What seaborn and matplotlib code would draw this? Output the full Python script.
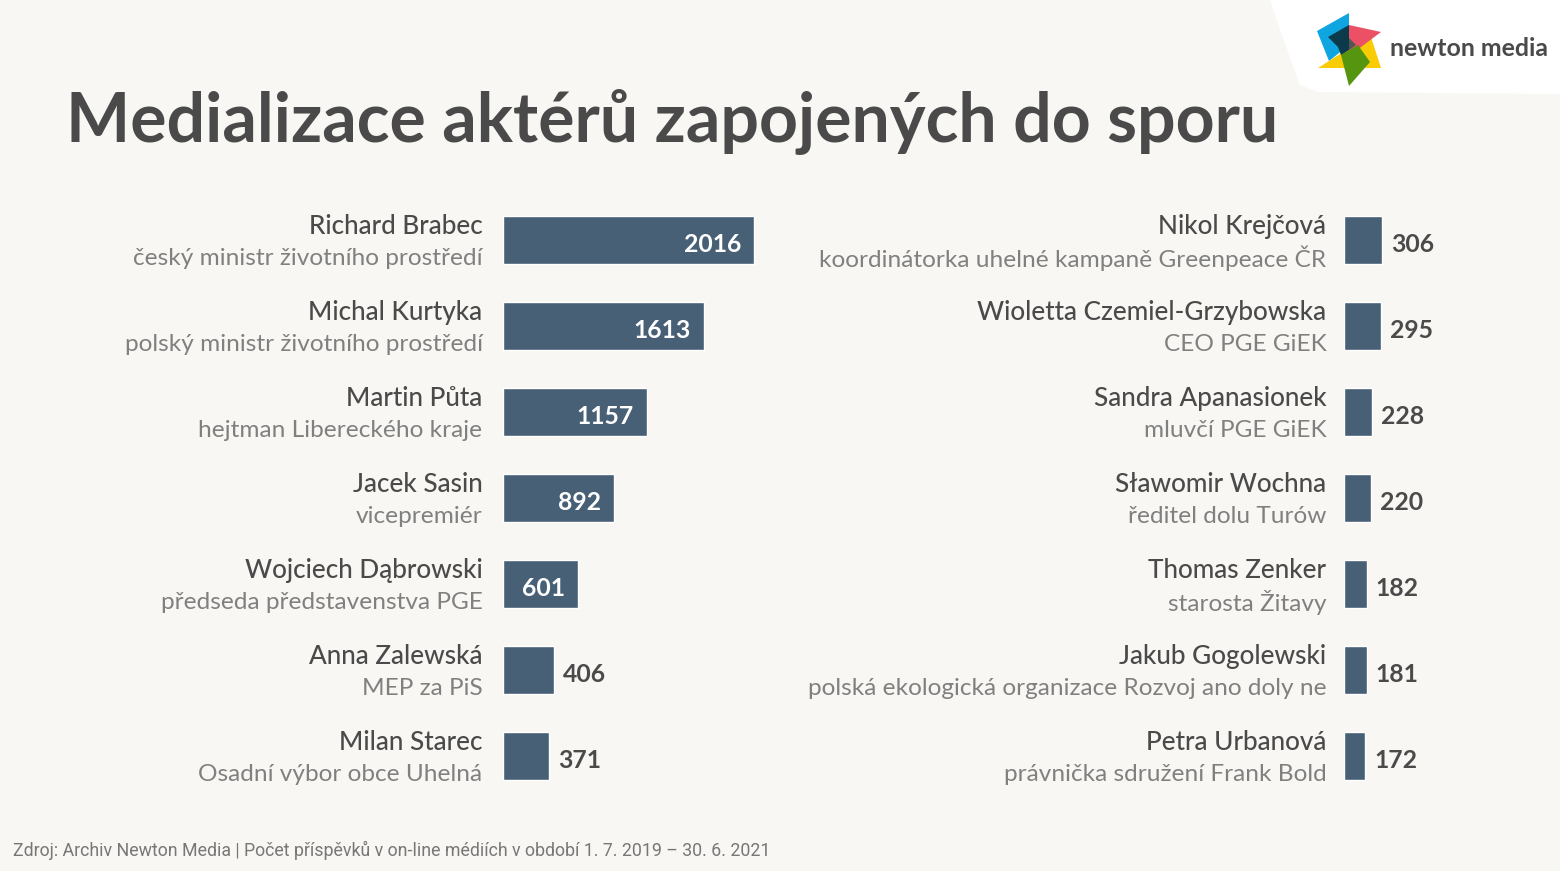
import matplotlib
matplotlib.use("Agg")
import matplotlib.pyplot as plt
from matplotlib.patches import Polygon, PathPatch
from matplotlib.path import Path
import pandas as pd
import seaborn as sns

# data
left_names = ["Richard Brabec", "Michal Kurtyka", "Martin Půta", "Jacek Sasin",
              "Wojciech Dąbrowski", "Anna Zalewská", "Milan Starec"]
left_roles = ["český ministr životního prostředí", "polský ministr životního prostředí",
              "hejtman Libereckého kraje", "vicepremiér",
              "předseda představenstva PGE", "MEP za PiS", "Osadní výbor obce Uhelná"]
left_values = [2016, 1613, 1157, 892, 601, 406, 371]

right_names = ["Nikol Krejčová", "Wioletta Czemiel-Grzybowska", "Sandra Apanasionek",
               "Sławomir Wochna", "Thomas Zenker", "Jakub Gogolewski", "Petra Urbanová"]
right_roles = ["koordinátorka uhelné kampaně Greenpeace ČR", "CEO PGE GiEK", "mluvčí PGE GiEK",
               "ředitel dolu Turów", "starosta Žitavy",
               "polská ekologická organizace Rozvoj ano doly ne", "právnička sdružení Frank Bold"]
right_values = [306, 295, 228, 220, 182, 181, 172]

title = "Medializace aktérů zapojených do sporu"
source = "Zdroj: Archiv Newton Media | Počet příspěvků v on-line médiích v období 1. 7. 2019 – 30. 6. 2021"

BG = "#F8F7F3"
BAR = "#476076"
DARK = "#4A4A4A"
GREY = "#808080"
W, H = 1560, 871
PX_PER_UNIT = 251 / 2016

sns.set_theme(style="white")
plt.rcParams["font.family"] = ["Lato", "DejaVu Sans"]

fig = plt.figure(figsize=(W / 100, H / 100), dpi=100, facecolor=BG)


def add_panel(x0, x1, names, roles, values, label_gap):
    top, bottom = 197, 799
    ax = fig.add_axes([x0 / W, 1 - bottom / H, (x1 - x0) / W, (bottom - top) / H])
    df = pd.DataFrame({"name": names, "value": values})
    sns.barplot(data=df, y="name", x="value", color=BAR, saturation=1, width=0.55, ax=ax)
    ax.set_xlim(0, (x1 - x0) / PX_PER_UNIT)
    ax.set_ylim(6.5, -0.5)
    ax.axis("off")
    for i, (name, role, val) in enumerate(zip(names, roles, values)):
        ax.annotate(name, (0, i), xytext=(label_gap, 13.5), textcoords="offset pixels",
                    ha="right", va="center", fontsize=18.8, color=DARK, weight="medium",
                    annotation_clip=False)
        ax.annotate(role, (0, i), xytext=(label_gap, -18), textcoords="offset pixels",
                    ha="right", va="center", fontsize=17.6, color=GREY, weight="regular",
                    annotation_clip=False)
        if val > 500:
            ax.annotate(str(val), (val, i), xytext=(-13, -4), textcoords="offset pixels",
                        ha="right", va="center", fontsize=17.8, color="white", weight="bold")
        else:
            ax.annotate(str(val), (val, i), xytext=(9, -4), textcoords="offset pixels",
                        ha="left", va="center", fontsize=17.8, color=DARK, weight="bold")
    return ax


add_panel(503, 790, left_names, left_roles, left_values, -20.5)
add_panel(1344, 1500, right_names, right_roles, right_values, -17.5)

# overlay in pixel coordinates for title, footer and logo
over = fig.add_axes([0, 0, 1, 1], facecolor="none")
over.set_xlim(0, W)
over.set_ylim(H, 0)
over.axis("off")

over.text(66, 122, title, fontsize=49, color=DARK, weight="bold", va="center", ha="left")
over.text(13, 850, source, fontsize=12.75, color="#777777", va="center", ha="left",
          family=["Roboto", "DejaVu Sans"], weight="regular")

# white corner behind the logo
corner = Path([(1270, 0), (1285, 45), (1300, 85), (1318, 92), (1560, 94), (1560, 0), (1270, 0)],
              [Path.MOVETO, Path.CURVE3, Path.CURVE3, Path.LINETO, Path.LINETO, Path.LINETO, Path.CLOSEPOLY])
over.add_patch(PathPatch(corner, fc="white", ec="none"))

# logo pinwheel
over.add_patch(Polygon([(1317, 31), (1349, 13), (1349, 45), (1329, 61)], fc="#0FA5E0", ec="none"))
over.add_patch(Polygon([(1318, 68), (1340, 54), (1371, 37), (1381, 68)], fc="#FACC05", ec="none"))
over.add_patch(Polygon([(1349, 25), (1381, 32), (1349, 56)], fc="#EB5065", ec="none"))
over.add_patch(Polygon([(1341, 55), (1358, 45), (1370, 62), (1349, 86)], fc="#55950F", ec="none"))
over.add_patch(Polygon([(1328, 37), (1349, 25), (1349, 50), (1341, 55), (1338, 47)], fc="#0C3A4A", ec="none"))
over.add_patch(Polygon([(1349, 38), (1356, 45), (1349, 50)], fc="#555555", ec="none"))
over.text(1390, 48, "newton media", fontsize=17.9, color=DARK, weight="bold", va="center", ha="left")

fig.savefig("out.png", dpi=100, facecolor=BG)
